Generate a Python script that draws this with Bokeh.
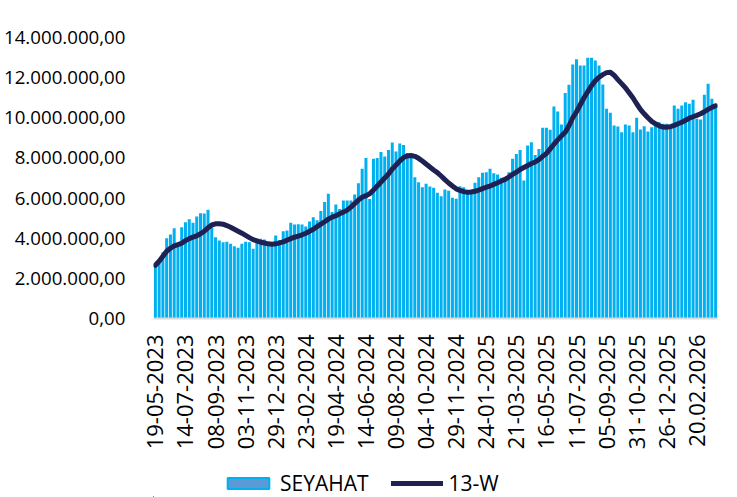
from math import pi
from bokeh.plotting import figure
from bokeh.layouts import column
from bokeh.models import ColumnDataSource, FixedTicker, Legend, LegendItem
from bokeh.embed import file_html
from bokeh.resources import INLINE

# weekly SEYAHAT values (millions), starting 19-05-2023
seyahat = [
    2.60, 2.75, 3.30, 4.00, 4.19, 4.50, 3.60, 4.55, 4.80, 4.95,
    4.77, 5.08, 5.25, 5.23, 5.42, 4.55, 4.05, 3.89, 3.80, 3.82,
    3.72, 3.60, 3.52, 3.72, 3.82, 3.80, 3.47, 3.89, 3.97, 3.94,
    3.70, 3.75, 4.14, 3.90, 4.35, 4.38, 4.77, 4.68, 4.70, 4.68,
    4.58, 4.83, 5.05, 4.90, 5.35, 5.80, 6.21, 5.30, 5.68, 5.45,
    5.88, 5.88, 5.88, 6.18, 6.74, 7.46, 8.00, 5.95, 7.96, 8.00,
    8.29, 8.07, 8.40, 8.77, 8.32, 8.72, 8.65, 8.24, 8.17, 7.04,
    6.79, 6.54, 6.71, 6.58, 6.51, 6.26, 6.09, 6.43, 6.36, 6.01,
    5.96, 6.59, 6.54, 6.20, 6.20, 6.76, 7.04, 7.26, 7.29, 7.46,
    7.24, 7.17, 7.01, 7.01, 7.29, 7.96, 8.20, 8.40, 6.88, 8.62,
    8.78, 8.15, 8.45, 9.50, 9.50, 9.40, 10.56, 10.31, 9.67, 11.24,
    11.64, 12.66, 12.92, 12.61, 12.61, 12.99, 12.99, 12.85, 12.61, 11.66,
    10.45, 10.25, 9.62, 9.57, 9.28, 9.67, 9.62, 9.28, 10.00, 9.42,
    9.58, 9.32, 9.53, 9.60, 9.78, 9.70, 9.70, 9.62, 10.61, 10.45,
    10.61, 10.78, 10.70, 10.90, 9.95, 9.92, 11.15, 11.69, 10.95, 10.70,
]

# 13-week line (millions)
w13 = [
    2.65, 2.85, 3.10, 3.35, 3.50, 3.62, 3.68, 3.75, 3.88, 3.98,
    4.05, 4.12, 4.22, 4.35, 4.52, 4.66, 4.72, 4.72, 4.70, 4.63,
    4.55, 4.45, 4.35, 4.25, 4.14, 4.03, 3.93, 3.87, 3.80, 3.76,
    3.72, 3.70, 3.72, 3.77, 3.82, 3.90, 3.98, 4.05, 4.10, 4.17,
    4.25, 4.35, 4.45, 4.58, 4.70, 4.82, 4.95, 5.05, 5.12, 5.22,
    5.30, 5.40, 5.55, 5.72, 5.90, 6.04, 6.12, 6.21, 6.40, 6.60,
    6.80, 7.00, 7.20, 7.45, 7.65, 7.85, 8.02, 8.10, 8.12, 8.08,
    7.98, 7.85, 7.70, 7.55, 7.40, 7.27, 7.10, 6.92, 6.75, 6.60,
    6.46, 6.38, 6.32, 6.29, 6.30, 6.34, 6.40, 6.47, 6.54, 6.60,
    6.68, 6.76, 6.85, 6.93, 7.05, 7.18, 7.29, 7.42, 7.52, 7.62,
    7.72, 7.80, 7.92, 8.08, 8.22, 8.45, 8.68, 8.90, 9.10, 9.28,
    9.60, 10.00, 10.30, 10.65, 11.00, 11.30, 11.60, 11.85, 12.02, 12.15,
    12.25, 12.27, 12.12, 11.90, 11.70, 11.50, 11.25, 11.00, 10.70, 10.42,
    10.20, 10.00, 9.82, 9.70, 9.60, 9.54, 9.53, 9.56, 9.62, 9.70,
    9.78, 9.88, 9.98, 10.05, 10.12, 10.20, 10.30, 10.42, 10.52, 10.60,
]

x_tick_labels = [
    "19-05-2023", "14-07-2023", "08-09-2023", "03-11-2023", "29-12-2023",
    "23-02-2024", "19-04-2024", "14-06-2024", "09-08-2024", "04-10-2024",
    "29-11-2024", "24-01-2025", "21-03-2025", "16-05-2025", "11-07-2025",
    "05-09-2025", "31-10-2025", "26-12-2025", "20.02.2026",
]
y_tick_values = [0, 2, 4, 6, 8, 10, 12, 14]
y_tick_labels = [
    "0,00", "2.000.000,00", "4.000.000,00", "6.000.000,00", "8.000.000,00",
    "10.000.000,00", "12.000.000,00", "14.000.000,00",
]

BAR_COLOR = "#00b0f0"
LINE_COLOR = "#1f2152"
FONT = "Open Sans"

n = len(seyahat)
week = list(range(n))
src = ColumnDataSource(dict(week=week, seyahat=seyahat, w13=w13))

W = 737
p = figure(width=W, height=455, output_backend="svg", toolbar_location=None,
           x_range=(-0.5, n - 0.5), y_range=(0, 14),
           min_border_left=153, min_border_right=20, min_border_top=37,
           min_border_bottom=137)
p.outline_line_color = None
p.grid.visible = False

p.vbar(x="week", top="seyahat", width=0.8, source=src,
       fill_color=BAR_COLOR, line_color=None)
p.line(x="week", y="w13", source=src, line_color=LINE_COLOR,
       line_width=5, line_cap="round", line_join="round")

step = 8
xt = [step * k for k in range(len(x_tick_labels))]
xa = p.xaxis[0]
xa.ticker = FixedTicker(ticks=xt)
xa.major_label_overrides = {t: lab for t, lab in zip(xt, x_tick_labels)}
xa.major_label_orientation = pi / 2
xa.major_tick_line_color = None
xa.minor_tick_line_color = None
xa.axis_line_color = "#d9d9d9"
xa.axis_line_width = 2
xa.major_label_text_font = FONT
xa.major_label_text_font_size = "22px"
xa.major_label_text_color = "black"
xa.major_label_standoff = 10

ya = p.yaxis[0]
ya.ticker = FixedTicker(ticks=y_tick_values)
ya.major_label_overrides = {v: lab for v, lab in zip(y_tick_values, y_tick_labels)}
ya.axis_line_color = None
ya.major_tick_line_color = None
ya.minor_tick_line_color = None
ya.major_label_text_font = FONT
ya.major_label_text_font_size = "18.7px"
ya.major_label_text_color = "black"
ya.major_label_standoff = 22

# legend strip below the chart; its renderers share the data but sit far
# outside this strip's visible ranges, so only the legend shows
lp = figure(width=W, height=42, output_backend="svg", toolbar_location=None,
            x_range=(1000, 1001), y_range=(1000, 1001),
            min_border_left=0, min_border_right=0, min_border_top=0,
            min_border_bottom=0)
lp.axis.visible = False
lp.grid.visible = False
lp.outline_line_color = None
sw_bar = lp.vbar(x="week", top="seyahat", width=0.8, source=src,
                 fill_color="#5b9bd5", line_color=BAR_COLOR, line_width=2)
sw_line = lp.line(x="week", y="w13", source=src, line_color=LINE_COLOR,
                  line_width=5, line_cap="round")

legend = Legend(items=[LegendItem(label="SEYAHAT", renderers=[sw_bar]),
                       LegendItem(label="13-W", renderers=[sw_line])],
                orientation="horizontal", location=(69, 0))
legend.label_text_font = FONT
legend.label_text_font_size = "21px"
legend.label_text_color = "black"
legend.glyph_width = 52
legend.glyph_height = 14
legend.label_height = 14
legend.label_standoff = 6
legend.spacing = 22
legend.padding = 0
legend.margin = 0
legend.border_line_color = None
legend.background_fill_alpha = 0
lp.add_layout(legend, "center")

layout = column(p, lp, spacing=0)
open("out.html", "w").write(file_html(layout, INLINE))
